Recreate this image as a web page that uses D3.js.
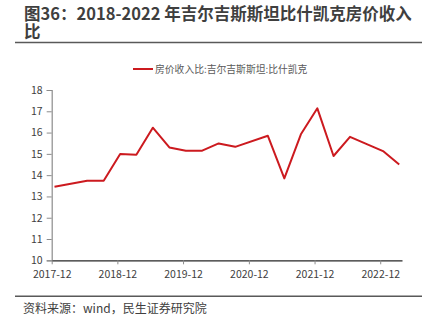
<!DOCTYPE html>
<html>
<head>
<meta charset="utf-8">
<script src="https://cdn.jsdelivr.net/npm/d3@7"></script>
<style>
  html, body { margin: 0; padding: 0; background: #fff; }
  svg { display: block; }
  text { font-family: "Noto Sans CJK SC", "Noto Sans", sans-serif; }
</style>
</head>
<body>
<svg id="chart" width="430" height="332"></svg>
<script>
// Quarterly house-price-to-income ratio, Bishkek
const months = ["2017-12","2018-06","2018-09","2018-12","2019-03","2019-06","2019-09","2019-12",
                "2020-03","2020-06","2020-09","2021-03","2021-06","2021-09","2021-12","2022-03",
                "2022-06","2022-12","2023-03"];
const ratio = [13.46,13.74,13.74,14.99,14.96,16.23,15.30,15.15,
               15.15,15.49,15.33,15.85,13.85,15.92,17.14,14.90,
               15.80,15.13,14.50];
const xTickLabels = ["2017-12","2018-12","2019-12","2020-12","2021-12","2022-12"];
const yTicks = [10,11,12,13,14,15,16,17,18];
const seriesName = "房价收入比:吉尔吉斯斯坦:比什凯克";
const titleLines = ["图36：2018-2022 年吉尔吉斯斯坦比什凯克房价收入", "比"];
const sourceText = "资料来源：wind，民生证券研究院";

const parseMonth = d3.timeParse("%Y-%m");
const svg = d3.select("#chart");
const axisFont = "'Liberation Sans', Arial, sans-serif";

// Title block (one text, wrapped onto two lines)
svg.append("text")
  .attr("font-size", 16.5)
  .attr("font-weight", "bold")
  .attr("fill", "#3f3f3f")
  .selectAll("tspan").data(titleLines).join("tspan")
  .attr("x", 24)
  .attr("y", (d, i) => 20 + i * 18)
  .text(d => d);
svg.append("line").attr("x1", 15).attr("x2", 422).attr("y1", 42.5).attr("y2", 42.5)
  .attr("stroke", "#595959").attr("stroke-width", 1.5);

// Scales: month slots, points sit in the middle of their month
const x = d3.scaleTime()
  .domain([parseMonth("2017-12"), parseMonth("2023-04")])
  .range([51.7, 402]);
const y = d3.scaleLinear().domain([10, 18]).range([260.3, 90]);
const xMid = s => {
  const d = parseMonth(s);
  return (x(d) + x(d3.timeMonth.offset(d, 1))) / 2;
};

// Y axis
const yAxis = svg.append("g").attr("transform", "translate(51.7,0)")
  .call(d3.axisLeft(y).tickValues(yTicks).tickSize(5).tickPadding(4).tickFormat(d3.format("d")));
yAxis.select(".domain").attr("stroke", "#8c8c8c").attr("stroke-width", 1.2);
yAxis.selectAll(".tick line").attr("stroke", "#8c8c8c");
yAxis.selectAll(".tick text").attr("font-size", 10.5).attr("fill", "#404040")
  .attr("font-family", axisFont);

// X axis
const xAxis = svg.append("g").attr("transform", "translate(0,260.3)")
  .call(d3.axisBottom(x).tickValues(xTickLabels.map(parseMonth)).tickSize(4).tickSizeOuter(0)
    .tickPadding(6).tickFormat(d3.timeFormat("%Y-%m")));
xAxis.select(".domain").attr("stroke", "#262626").attr("stroke-width", 1.2);
xAxis.selectAll(".tick line").attr("stroke", "#8c8c8c");
xAxis.selectAll(".tick text").attr("font-size", 10.5).attr("fill", "#404040")
  .attr("font-family", axisFont);

// Series line
const pts = months.map((m, i) => ({ m, v: ratio[i] }));
svg.append("path").datum(pts)
  .attr("fill", "none")
  .attr("stroke", "#cc1a1f")
  .attr("stroke-width", 2)
  .attr("stroke-linejoin", "round")
  .attr("d", d3.line().x(d => xMid(d.m)).y(d => y(d.v)));

// Legend
svg.append("line").attr("x1", 133).attr("x2", 153).attr("y1", 69).attr("y2", 69)
  .attr("stroke", "#cc1a1f").attr("stroke-width", 2);
svg.append("text").attr("x", 155).attr("y", 72.5)
  .attr("font-size", 9.8).attr("fill", "#595959").text(seriesName);

// Footer
svg.append("line").attr("x1", 15).attr("x2", 422).attr("y1", 296.3).attr("y2", 296.3)
  .attr("stroke", "#595959").attr("stroke-width", 1.5);
svg.append("text").attr("x", 23).attr("y", 313)
  .attr("font-size", 12).attr("fill", "#404040").text(sourceText);
</script>
</body>
</html>
